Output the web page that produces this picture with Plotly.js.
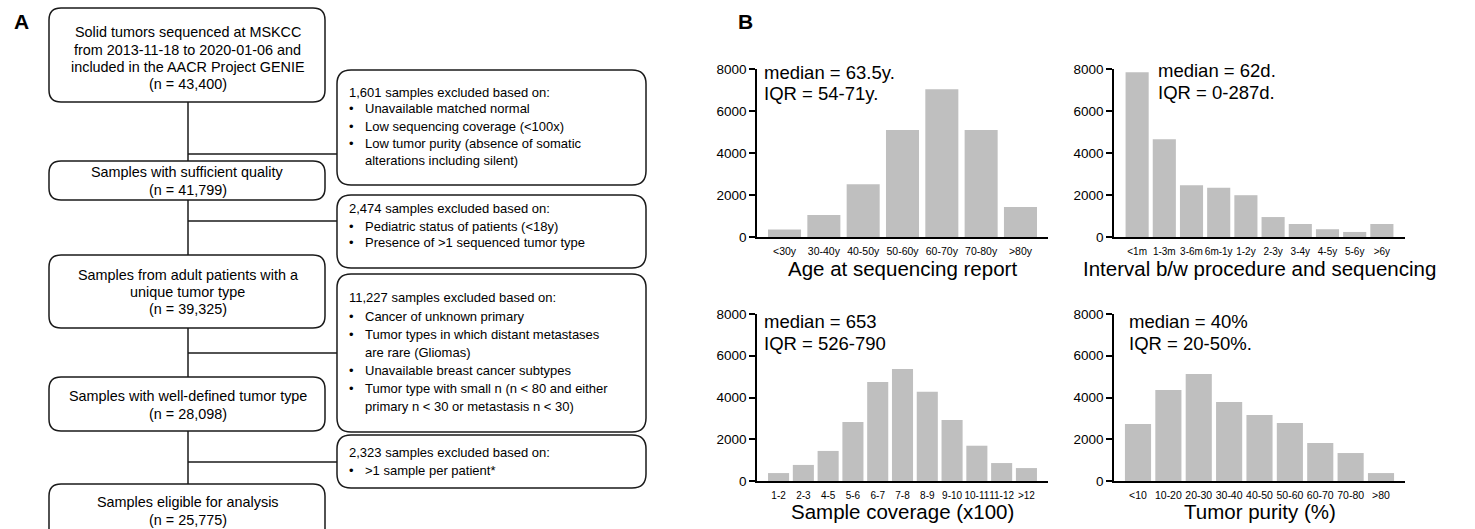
<!DOCTYPE html>
<html>
<head>
<meta charset="utf-8">
<script src="https://cdn.plot.ly/plotly-3.0.1.min.js"></script>
<style>html,body{margin:0;padding:0;background:#fff;}#chart{width:1475px;height:529px;}</style>
</head>
<body>
<div id="chart"></div>
<script>
// ---------------- DATA ----------------
const ageCats = ['<30y','30-40y','40-50y','50-60y','60-70y','70-80y','>80y'];
const ageCounts = [360, 1050, 2510, 5090, 7040, 5090, 1430];

const intervalCats = ['<1m','1-3m','3-6m','6m-1y','1-2y','2-3y','3-4y','4-5y','5-6y','>6y'];
const intervalCounts = [7850, 4660, 2460, 2340, 1990, 950, 620, 370, 240, 620];

const coverageCats = ['1-2','2-3','4-5','5-6','6-7','7-8','8-9','9-10','10-11','11-12','>12'];
const coverageCounts = [380, 770, 1440, 2830, 4740, 5370, 4270, 2920, 1690, 860, 620];

const purityCats = ['<10','10-20','20-30','30-40','40-50','50-60','60-70','70-80','>80'];
const purityCounts = [2730, 4360, 5130, 3790, 3160, 2780, 1820, 1340, 380];

const yTickVals = [0, 2000, 4000, 6000, 8000];

const histTitles = ['Age at sequencing report', 'Interval b/w procedure and sequencing',
                    'Sample coverage (x100)', 'Tumor purity (%)'];
const medianTexts = ['median = 63.5y.', 'median = 62d.', 'median = 653', 'median = 40%'];
const iqrTexts = ['IQR = 54-71y.', 'IQR = 0-287d.', 'IQR = 526-790', 'IQR = 20-50%.'];

const mainBoxTexts = [
  ['Solid tumors sequenced at MSKCC', 'from 2013-11-18 to 2020-01-06 and', 'included in the AACR Project GENIE', '(n = 43,400)'],
  ['Samples with sufficient quality', '(n = 41,799)'],
  ['Samples from adult patients with a', 'unique tumor type', '(n = 39,325)'],
  ['Samples with well-defined tumor type', '(n = 28,098)'],
  ['Samples eligible for analysis', '(n = 25,775)']
];
const exclusionHeads = [
  '1,601 samples excluded based on:',
  '2,474 samples excluded based on:',
  '11,227 samples excluded based on:',
  '2,323 samples excluded based on:'
];
const exclusionBullets = [
  [['Unavailable matched normal'], ['Low sequencing coverage (<100x)'], ['Low tumor purity (absence of somatic', 'alterations including silent)']],
  [['Pediatric status of patients (<18y)'], ['Presence of >1 sequenced tumor type']],
  [['Cancer of unknown primary'], ['Tumor types in which distant metastases', 'are rare (Gliomas)'], ['Unavailable breast cancer subtypes'], ['Tumor type with small n (n < 80 and either', 'primary n < 30 or metastasis n < 30)']],
  [['>1 sample per patient*']]
];

// ---------------- LAYOUT HELPERS ----------------
const W = 1475, H = 529;
const px = x => x / W;
const py = y => 1 - y / H;
const FONT = 'Liberation Sans, Arial, Helvetica, sans-serif';
const esc = s => s.replace(/&/g, '&amp;').replace(/</g, '&lt;').replace(/>/g, '&gt;');
const LINE = '#1a1a1a';

function rrect(x0, y0, x1, y1, r) {
  const P = (x, y) => px(x).toFixed(5) + ',' + py(y).toFixed(5);
  return 'M' + P(x0 + r, y0) + ' L' + P(x1 - r, y0) + ' Q' + P(x1, y0) + ' ' + P(x1, y0 + r) +
    ' L' + P(x1, y1 - r) + ' Q' + P(x1, y1) + ' ' + P(x1 - r, y1) +
    ' L' + P(x0 + r, y1) + ' Q' + P(x0, y1) + ' ' + P(x0, y1 - r) +
    ' L' + P(x0, y0 + r) + ' Q' + P(x0, y0) + ' ' + P(x0 + r, y0) + ' Z';
}
function lineShape(x0, y0, x1, y1) {
  return {type: 'line', xref: 'paper', yref: 'paper', x0: px(x0), y0: py(y0), x1: px(x1), y1: py(y1),
          line: {color: LINE, width: 1.5}};
}
function boxShape(b, r) {
  return {type: 'path', xref: 'paper', yref: 'paper', path: rrect(b[0], b[1], b[2], b[3], r),
          line: {color: LINE, width: 1.5}, fillcolor: 'rgba(0,0,0,0)'};
}
function txt(x, y, text, size, anchor, extra) {
  return Object.assign({xref: 'paper', yref: 'paper', x: px(x), y: py(y), text: esc(text), showarrow: false,
    xanchor: anchor, yanchor: 'middle', font: {family: FONT, size: size, color: '#000'}}, extra || {});
}

const shapes = [];
const annotations = [];

// ---- Panel A : flowchart ----
const mainBoxes = [[49, 8, 325, 102], [49, 161, 325, 200], [49, 255, 325, 328], [49, 377, 325, 431], [49, 484, 325, 545]];
const mainLineY = [[32, 49.5, 67, 84.5], [172, 190], [275, 292, 309], [396, 414], [502, 520]];
const exclBoxes = [[337, 70, 646, 185], [337, 195, 646, 268], [337, 274, 646, 432], [337, 435, 646, 488]];
const exclLineY = [[92, 109, 126, 143, 160], [208, 226, 243], [297, 316, 334, 352, 370, 388, 406], [452, 470]];
const connectY = [154, 221, 353, 462];
const trunkX = 188;

mainBoxes.forEach((b, i) => {
  shapes.push(boxShape(b, 12));
  mainBoxTexts[i].forEach((t, j) => annotations.push(txt(trunkX - 0.5, mainLineY[i][j], t, 14.4, 'center')));
  if (i < mainBoxes.length - 1) shapes.push(lineShape(trunkX, b[3], trunkX, mainBoxes[i + 1][1]));
});
connectY.forEach(y => shapes.push(lineShape(trunkX, y, 337, y)));
exclBoxes.forEach((b, i) => {
  shapes.push(boxShape(b, 14));
  const ys = exclLineY[i];
  let k = 0;
  annotations.push(txt(347, ys[k++], exclusionHeads[i], 13, 'left'));
  exclusionBullets[i].forEach(lines => {
    lines.forEach((l, j) => {
      if (j === 0) annotations.push(txt(351, ys[k], '•', 13, 'center'));
      annotations.push(txt(363, ys[k], l, 13, 'left'));
      k++;
    });
  });
});

// panel letters
annotations.push(txt(21, 22, 'A', 21, 'center', {font: {family: FONT, size: 21, color: '#000', weight: 'bold'}, text: '<b>A</b>'}));
annotations.push(txt(745, 21, 'B', 21, 'center', {font: {family: FONT, size: 21, color: '#000', weight: 'bold'}, text: '<b>B</b>'}));

// ---- Panel B : histograms ----
const doms = [
  {x: [757, 1048], y: [69, 237], range: [-0.7, 6.7], width: 0.84, medX: 762, medY: [73, 93], tf: 10.5},
  {x: [1114, 1405], y: [69, 237], range: [-0.85, 9.85], width: 0.85, medX: 1156, medY: [71, 92], tf: 10},
  {x: [757, 1048], y: [314, 481], range: [-0.87, 10.87], width: 0.85, medX: 762, medY: [321, 343], tf: 10},
  {x: [1114, 1405], y: [314, 481], range: [-0.79, 8.79], width: 0.86, medX: 1127, medY: [321, 343], tf: 10.5}
];
const cats = [ageCats, intervalCats, coverageCats, purityCats];
const vals = [ageCounts, intervalCounts, coverageCounts, purityCounts];

const traces = [];
const layout = {
  width: W, height: H,
  margin: {l: 0, r: 0, t: 0, b: 0, pad: 0},
  paper_bgcolor: '#fff', plot_bgcolor: 'rgba(0,0,0,0)',
  showlegend: false,
  font: {family: FONT, color: '#000'},
  shapes: shapes, annotations: annotations
};

doms.forEach((d, i) => {
  const n = i === 0 ? '' : String(i + 1);
  traces.push({
    type: 'bar', x: cats[i], y: vals[i], xaxis: 'x' + n, yaxis: 'y' + n,
    marker: {color: '#bfbfbf', line: {width: 0}}, width: d.width, hoverinfo: 'x+y'
  });
  layout['xaxis' + n] = {
    domain: [px(d.x[0]), px(d.x[1])], anchor: 'y' + n, type: 'category', range: d.range,
    showline: true, linecolor: '#000', linewidth: 1.6, ticks: '', showgrid: false, zeroline: false,
    tickfont: {family: FONT, size: d.tf, color: '#000'}, tickangle: 0, ticklabelstandoff: 4, fixedrange: true
  };
  layout['yaxis' + n] = {
    domain: [py(d.y[1]), py(d.y[0])], anchor: 'x' + n, range: [0, 8000],
    tickvals: yTickVals, tickformat: 'd', ticks: 'outside', ticklen: 6, tickwidth: 1.5, tickcolor: '#000',
    showline: true, linecolor: '#000', linewidth: 1.6, showgrid: false, zeroline: false,
    tickfont: {family: FONT, size: 13.5, color: '#000'}, fixedrange: true
  };
  annotations.push(txt((d.x[0] + d.x[1]) / 2, i < 2 ? 268 : 511, histTitles[i], 20.5, 'center'));
  annotations.push(txt(d.medX, d.medY[0], medianTexts[i], 18.5, 'left'));
  annotations.push(txt(d.medX, d.medY[1], iqrTexts[i], 18.5, 'left'));
});

Plotly.newPlot('chart', traces, layout, {displayModeBar: false, staticPlot: false});
</script>
</body>
</html>
